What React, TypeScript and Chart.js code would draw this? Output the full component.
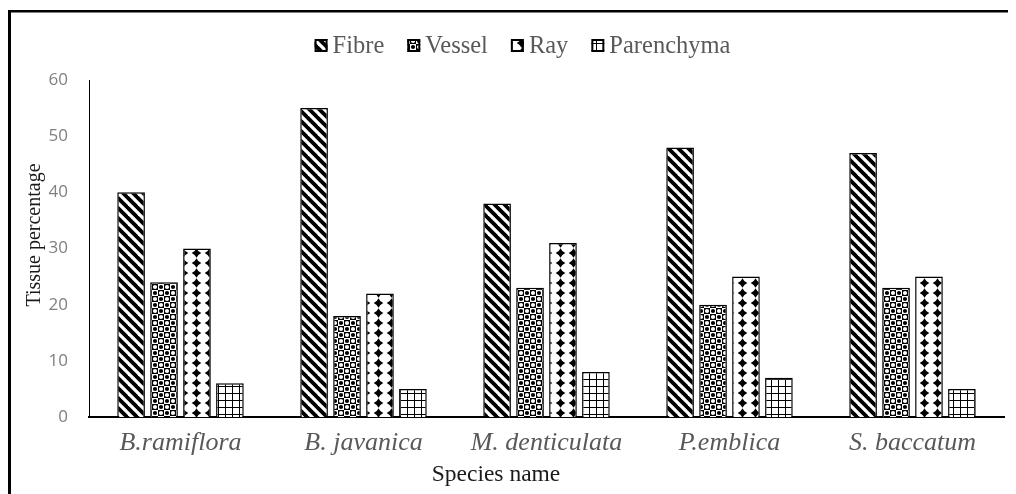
import { useEffect, useRef } from "react";
import { Chart, registerables } from "chart.js";

Chart.register(...registerables);

const categories = ["B.ramiflora", "B. javanica", "M. denticulata", "P.emblica", "S. baccatum"];
const seriesNames = ["Fibre", "Vessel", "Ray", "Parenchyma"];
const fibre = [40, 55, 38, 48, 47];
const vessel = [24, 18, 23, 20, 23];
const ray = [30, 22, 31, 25, 25];
const parenchyma = [6, 5, 8, 7, 5];
const yMin = 0;
const yMax = 60;
const yStep = 10;
const yTitle = "Tissue percentage";
const xTitle = "Species name";

function makeTile(w: number, h: number, draw: (c: CanvasRenderingContext2D) => void): CanvasPattern {
  const cv = document.createElement("canvas");
  cv.width = w;
  cv.height = h;
  const c = cv.getContext("2d")!;
  c.fillStyle = "#fff";
  c.fillRect(0, 0, w, h);
  draw(c);
  return c.createPattern(cv, "repeat")!;
}

function fibrePattern() {
  return makeTile(10, 10, (c) => {
    c.strokeStyle = "#000";
    c.lineWidth = 3.8;
    for (const o of [-10, 0, 10]) {
      c.beginPath();
      c.moveTo(o - 2, -2);
      c.lineTo(o + 12, 12);
      c.stroke();
    }
  });
}

function vesselPattern() {
  return makeTile(12, 12, (c) => {
    c.fillStyle = "#000";
    c.fillRect(0, 0, 6, 6);
    c.fillRect(6, 6, 6, 6);
    c.fillStyle = "#fff";
    for (const [x, y] of [[3, 3], [9, 9]]) {
      c.beginPath();
      c.arc(x, y, 2.1, 0, Math.PI * 2);
      c.fill();
    }
    c.fillStyle = "#000";
    for (const [x, y] of [[9, 3], [3, 9]]) {
      c.beginPath();
      c.arc(x, y, 2.1, 0, Math.PI * 2);
      c.fill();
    }
  });
}

function rayPattern() {
  return makeTile(13, 10, (c) => {
    c.fillStyle = "#000";
    const cx = 6.5, cy = 5, r = 4.8, k = 1.4;
    c.beginPath();
    c.moveTo(cx, cy - r);
    c.quadraticCurveTo(cx + k, cy - k, cx + r, cy);
    c.quadraticCurveTo(cx + k, cy + k, cx, cy + r);
    c.quadraticCurveTo(cx - k, cy + k, cx - r, cy);
    c.quadraticCurveTo(cx - k, cy - k, cx, cy - r);
    c.fill();
  });
}

function parenchymaPattern() {
  return makeTile(7, 7, (c) => {
    c.fillStyle = "#000";
    c.fillRect(0, 0, 7, 1);
    c.fillRect(0, 0, 1, 7);
  });
}

const framePlugin = {
  id: "frameAndText",
  afterDraw(chart: any) {
    const ctx: CanvasRenderingContext2D = chart.ctx;
    const patterns: CanvasPattern[] = chart.data.datasets.map((d: any) => d.backgroundColor);
    ctx.save();
    // frame
    ctx.fillStyle = "#000";
    ctx.fillRect(0, 2, chart.width, 2.5);
    ctx.fillRect(0, 2, 3, chart.height);

    // legend
    ctx.font = '24.5px "Liberation Serif"';
    ctx.textBaseline = "middle";
    const box = 13, gapText = 5, gapItems = 23;
    const widths = seriesNames.map((n) => ctx.measureText(n).width);
    const total = widths.reduce((a, w) => a + box + gapText + w, 0) + gapItems * (seriesNames.length - 1);
    let x = 514.5 - total / 2;
    const y = 37.5;
    seriesNames.forEach((n, i) => {
      ctx.fillStyle = patterns[i];
      ctx.fillRect(x, y - box / 2, box, box);
      ctx.strokeStyle = "#000";
      ctx.lineWidth = 2;
      ctx.strokeRect(x + 1, y - box / 2 + 1, box - 2, box - 2);
      ctx.fillStyle = "#595959";
      ctx.textAlign = "left";
      ctx.fillText(n, x + box + gapText, y + 1);
      x += box + gapText + widths[i] + gapItems;
    });

    // axis titles
    ctx.fillStyle = "#1a1a1a";
    ctx.font = '23.5px "Liberation Serif"';
    ctx.textAlign = "center";
    ctx.textBaseline = "middle";
    ctx.fillText(xTitle, 488, 467);
    ctx.save();
    ctx.translate(27, 227);
    ctx.rotate(-Math.PI / 2);
    ctx.font = '20px "Liberation Serif"';
    ctx.fillText(yTitle, 0, 0);
    ctx.restore();
    ctx.restore();
  },
};

export default function App() {
  const ref = useRef<HTMLCanvasElement | null>(null);
  useEffect(() => {
    if (!ref.current) return;
    document.documentElement.style.overflow = "hidden";
    const pats = [fibrePattern(), vesselPattern(), rayPattern(), parenchymaPattern()];
    const values = [fibre, vessel, ray, parenchyma];
    const chart = new Chart(ref.current, {
      type: "bar",
      data: {
        labels: categories,
        datasets: seriesNames.map((n, i) => ({
          label: n,
          data: values[i],
          backgroundColor: pats[i] as any,
          borderColor: "#000",
          borderWidth: 1.5,
          borderSkipped: "bottom" as any,
          categoryPercentage: 0.72,
          barPercentage: 0.84,
        })),
      },
      options: {
        responsive: false,
        animation: false,
        devicePixelRatio: 1,
        layout: { padding: { left: 0, right: 12, top: 72, bottom: 0 } },
        plugins: {
          legend: { display: false },
          tooltip: { enabled: false },
        },
        scales: {
          x: {
            grid: { display: false, drawTicks: false },
            border: { display: true, color: "#000", width: 2 },
            ticks: {
              color: "#595959",
              font: { family: "Liberation Serif", size: 26, style: "italic" },
              padding: 11,
              maxRotation: 0,
              autoSkip: false,
            },
            afterFit: (s: any) => {
              s.height = 77;
            },
          },
          y: {
            min: yMin,
            max: yMax,
            grid: { display: false, drawTicks: false },
            border: { display: true, color: "#000", width: 1 },
            ticks: {
              stepSize: yStep,
              color: "#7f7f7f",
              font: { family: "Open Sans", size: 17 },
              padding: 21,
            },
            afterFit: (s: any) => {
              s.width = 81;
            },
          },
        },
      },
      plugins: [framePlugin],
    });
    return () => chart.destroy();
  }, []);
  return (
    <div style={{ width: 1008, height: 486, overflow: "visible" }}>
      <canvas ref={ref} width={1008} height={486} style={{ display: "block" }} />
    </div>
  );
}
